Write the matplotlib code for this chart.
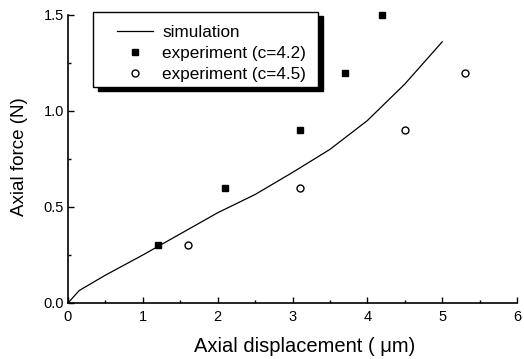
import matplotlib
matplotlib.use("Agg")
import matplotlib.pyplot as plt
from matplotlib.ticker import MultipleLocator
from matplotlib.patches import Rectangle

plt.rcParams['font.family'] = ['Liberation Sans', 'DejaVu Sans']

sim_x = [0, 0.15, 0.5, 1.0, 1.5, 2.0, 2.5, 3.0, 3.5, 4.0, 4.5, 5.0]
sim_y = [0, 0.065, 0.145, 0.25, 0.36, 0.47, 0.565, 0.68, 0.80, 0.95, 1.14, 1.36]

exp42_x = [1.2, 2.1, 3.1, 3.7, 4.2]
exp42_y = [0.3, 0.6, 0.9, 1.2, 1.5]

exp45_x = [1.6, 3.1, 4.5, 5.3]
exp45_y = [0.3, 0.6, 0.9, 1.2]

xticks = [0, 1, 2, 3, 4, 5, 6]
yticks = [0.0, 0.5, 1.0, 1.5]

W, H = 524, 359
fig = plt.figure(figsize=(W/100, H/100), dpi=100)
ax = fig.add_axes([68/W, 1-303/H, (517-68)/W, (303-15)/H])

ax.plot(sim_x, sim_y, color='black', lw=0.9, label='simulation')
ax.plot(exp42_x, exp42_y, ls='none', marker='s', ms=5, mfc='black', mec='black',
        label='experiment (c=4.2)', clip_on=False)
ax.plot(exp45_x, exp45_y, ls='none', marker='o', ms=5, mfc='white', mec='black',
        mew=1.0, label='experiment (c=4.5)', clip_on=False)

ax.set_xlim(0, 6)
ax.set_ylim(0, 1.5)
ax.set_xticks(xticks)
ax.set_xticklabels([str(t) for t in xticks])
ax.set_yticks(yticks)
ax.set_yticklabels([f"{t:.1f}" for t in yticks])
ax.xaxis.set_minor_locator(MultipleLocator(0.5))
ax.yaxis.set_minor_locator(MultipleLocator(0.25))
ax.tick_params(which='both', direction='in', labelsize=10.5, width=1)
ax.tick_params(which='major', length=4)
ax.tick_params(which='minor', length=2.5)
ax.tick_params(axis='x', pad=5)
ax.tick_params(axis='y', pad=3)
for s in ['top', 'right']:
    ax.spines[s].set_visible(False)
for s in ['left', 'bottom']:
    ax.spines[s].set_linewidth(1.2)

ax.set_xlabel('Axial displacement ( μm)', fontsize=14.5)
ax.set_ylabel('Axial force (N)', fontsize=13.5)
ax.xaxis.set_label_coords((304.5-68)/449, (303-337)/288)
ax.yaxis.set_label_coords((28-68)/449, (303-157)/288)

# legend frame with solid shadow
bx0, by0, bx1, by1 = 93, 12, 318, 87
ax.add_patch(Rectangle(((bx0+5)/W, 1-(by1+4)/H), (bx1-bx0)/W, (by1-by0)/H,
                       transform=fig.transFigure, facecolor='black',
                       edgecolor='black', clip_on=False, zorder=4))
ax.add_patch(Rectangle((bx0/W, 1-by1/H), (bx1-bx0)/W, (by1-by0)/H,
                       transform=fig.transFigure, facecolor='white',
                       edgecolor='black', lw=1.0, clip_on=False, zorder=4.5))

leg = ax.legend(loc='upper left', bbox_to_anchor=(117/W, 1-25/H),
                bbox_transform=fig.transFigure, borderaxespad=0, borderpad=0,
                fontsize=12.3, frameon=False,
                handlelength=2.1, handletextpad=0.55,
                labelspacing=0.36)
leg.set_zorder(6)

fig.savefig('out.png', dpi=100)
